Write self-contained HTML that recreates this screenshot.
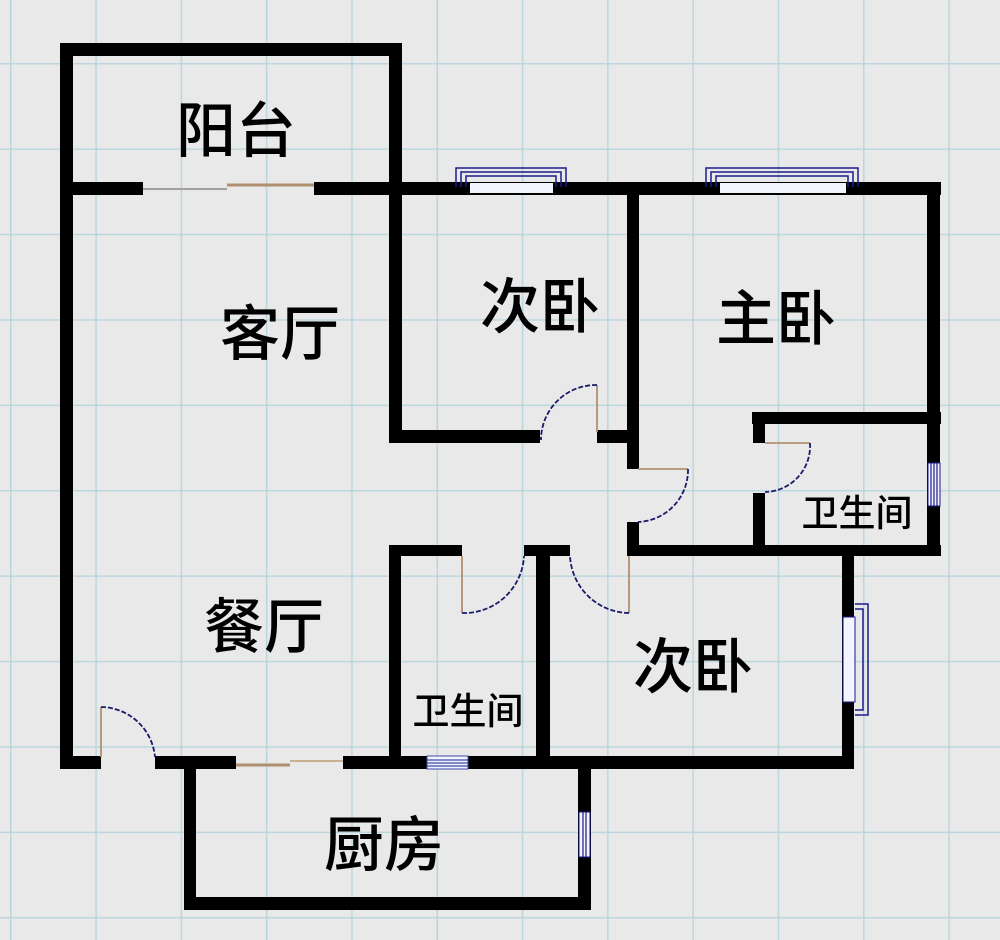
<!DOCTYPE html>
<html><head><meta charset="utf-8"><style>
html,body{margin:0;padding:0;background:#e9e9e9;}
svg{display:block}
text{font-family:"Liberation Sans","Noto Sans CJK SC",sans-serif;fill:#000;font-weight:500}
</style></head><body>
<svg width="1000" height="940" viewBox="0 0 1000 940" xmlns="http://www.w3.org/2000/svg">
<defs>
<pattern id="g" x="10" y="63" width="85.3" height="85.4" patternUnits="userSpaceOnUse">
<path d="M0.75 0V85.4M0 0.75H85.3" stroke="#bcd6df" stroke-width="1.6" fill="none"/>
</pattern>
</defs>
<rect width="1000" height="940" fill="#e9e9e9"/>
<rect width="1000" height="940" fill="url(#g)"/>
<g fill="#000">
<!-- balcony -->
<rect x="60" y="43" width="342" height="13"/>
<rect x="60" y="43" width="13" height="726"/>
<rect x="389" y="43" width="13" height="152"/>
<!-- y187 wall -->
<rect x="60" y="182" width="83" height="13"/>
<rect x="314" y="182" width="88" height="13"/>
<rect x="389" y="182" width="552" height="13"/>
<rect x="927" y="182" width="13" height="374"/>
<!-- bedroom 1 -->
<rect x="389" y="182" width="13" height="261"/>
<rect x="389" y="430" width="151" height="13"/>
<rect x="597" y="430" width="41" height="13"/>
<rect x="627" y="182" width="12" height="287"/>
<rect x="627" y="522" width="12" height="34"/>
<rect x="627" y="545" width="314" height="11"/>
<!-- upper bath -->
<rect x="752" y="412" width="189" height="12"/>
<rect x="753" y="412" width="12" height="31"/>
<rect x="753" y="493" width="12" height="55"/>
<!-- lower -->
<rect x="389" y="545" width="73" height="11"/>
<rect x="524" y="545" width="46" height="11"/>
<rect x="536" y="545" width="14" height="224"/>
<rect x="389" y="545" width="12" height="224"/>
<rect x="629" y="545" width="225" height="11"/>
<rect x="842" y="545" width="12" height="224"/>
<!-- bottom wall -->
<rect x="60" y="756" width="41" height="13"/>
<rect x="155" y="756" width="81" height="13"/>
<rect x="343" y="756" width="511" height="13"/>
<!-- kitchen -->
<rect x="184" y="756" width="12" height="154"/>
<rect x="184" y="897" width="407" height="13"/>
<rect x="578" y="756" width="13" height="154"/>
</g>
<!-- sliding doors -->
<line x1="143" y1="189" x2="227" y2="189" stroke="#a0a0a0" stroke-width="2"/>
<line x1="227" y1="185" x2="314" y2="185" stroke="#b09070" stroke-width="3"/>
<line x1="236" y1="765" x2="290" y2="765" stroke="#b09070" stroke-width="3"/>
<line x1="290" y1="761" x2="343" y2="761" stroke="#c8b090" stroke-width="2"/>
<!-- doors -->
<g fill="none" stroke-width="1.8">
<g stroke="#b09070">
<line x1="597" y1="385" x2="597" y2="432"/>
<line x1="638" y1="469" x2="688" y2="469"/>
<line x1="765" y1="443" x2="810" y2="443"/>
<line x1="462" y1="556" x2="462" y2="613"/>
<line x1="629" y1="556" x2="629" y2="613"/>
<line x1="101" y1="707" x2="101" y2="757"/>
</g>
<g stroke="#1a1a6a" stroke-dasharray="5 2">
<path d="M597 385 A55 55 0 0 0 541 440"/>
<path d="M688 469 A52 52 0 0 1 638 522"/>
<path d="M810 443 A46 46 0 0 1 765 492"/>
<path d="M462 613 A60 60 0 0 0 524 556"/>
<path d="M629 613 A60 60 0 0 1 570 556"/>
<path d="M101 707 A55 55 0 0 1 155 757"/>
</g>
</g>
<!-- windows top -->
<g fill="none" stroke="#1a1a8a" stroke-width="1.5">
<path d="M456 187 V168 H566 V187"/><path d="M461 187 V172 H561 V187"/><path d="M466 187 V176 H556 V187"/>
<path d="M706 187 V168 H858 V187"/><path d="M711 187 V172 H853 V187"/><path d="M716 187 V176 H848 V187"/>
<path d="M855 604 H868 V715 H855"/><path d="M855 609 H863 V710 H855"/>
</g>
<rect x="470" y="183" width="83" height="10" fill="#f4f4ff"/>
<rect x="720" y="183" width="126" height="10" fill="#f4f4ff"/>
<rect x="843" y="617" width="12" height="85" fill="#f4f4ff" stroke="#1a1a8a" stroke-width="1"/>
<!-- small windows -->
<rect x="928" y="463" width="12" height="43" fill="#f4f4ff" stroke="#1a1a8a"/>
<path d="M931 463V506M934 463V506M937 463V506" stroke="#1a1a8a" stroke-width="1.2"/>
<rect x="427" y="756" width="41" height="13" fill="#f4f4ff" stroke="#3a4aaa"/>
<path d="M427 760H468M427 763H468M427 766H468" stroke="#3a4aaa" stroke-width="1.2"/>
<rect x="579" y="812" width="11" height="45" fill="#f4f4ff" stroke="#1a1a8a"/>
<path d="M583 812V857M586 812V857" stroke="#1a1a8a" stroke-width="1.2"/>
<!-- labels -->
<g font-size="60" text-anchor="middle">
<text x="236" y="152">阳台</text>
<text x="280" y="355">客厅</text>
<text x="540" y="328">次卧</text>
<text x="776" y="340">主卧</text>
<text x="264" y="648">餐厅</text>
<text x="693" y="688">次卧</text>
<text x="384" y="866">厨房</text>
</g>
<g font-size="37" text-anchor="middle">
<text x="857" y="526">卫生间</text>
<text x="468" y="724">卫生间</text>
</g>
</svg>
</body></html>
